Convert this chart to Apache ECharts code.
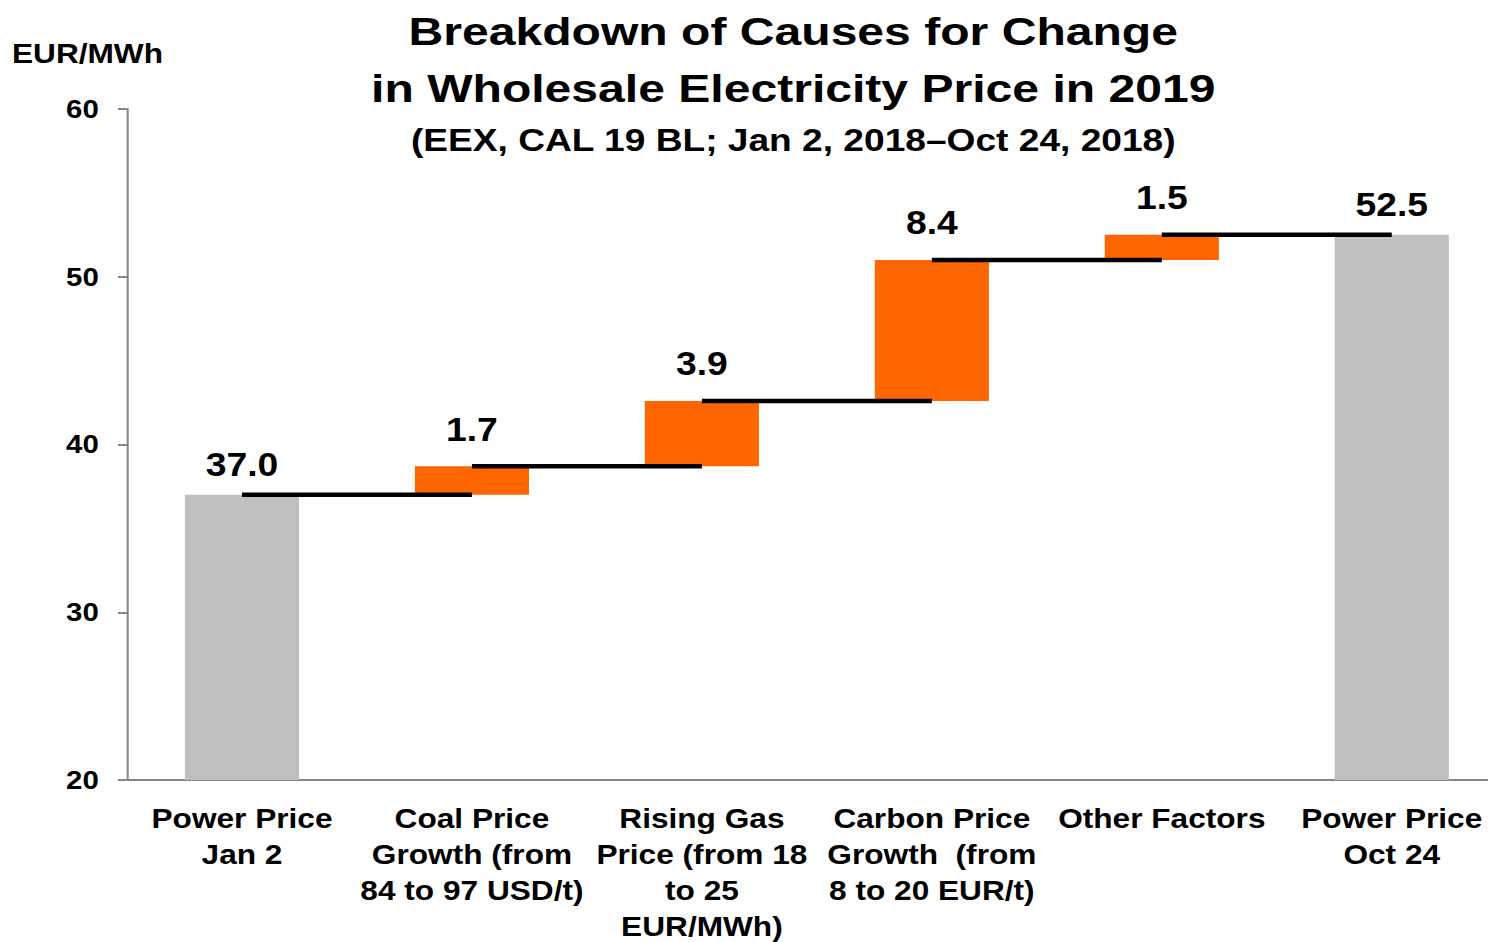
<!DOCTYPE html>
<html>
<head>
<meta charset="utf-8">
<script src="https://cdn.jsdelivr.net/npm/echarts@6/dist/echarts.min.js"></script>
<style>
  html, body { margin: 0; padding: 0; background: #fff; overflow: hidden; }
  /* the reference uses horizontally widened text, so the whole drawing is stretched a bit */
  #chart { width: 1317px; height: 942px; transform: scaleX(1.13); transform-origin: 0 0; }
</style>
</head>
<body>
<div id="chart"></div>
<script>
// categories of the waterfall
const categories = [
  'Power Price\nJan 2',
  'Coal Price\nGrowth (from\n84 to 97 USD/t)',
  'Rising Gas\nPrice (from 18\nto 25\nEUR/MWh)',
  'Carbon Price\nGrowth  (from\n8 to 20 EUR/t)',
  'Other Factors',
  'Power Price\nOct 24'
]
// invisible base under each bar
const bases = [0, 37.0, 38.7, 42.6, 51.0, 0]
// visible part of each bar
const deltas = [37.0, 1.7, 3.9, 8.4, 1.5, 52.5]
const valueLabels = ['37.0', '1.7', '3.9', '8.4', '1.5', '52.5']
const yTicks = [20, 30, 40, 50, 60]

const titleLines = ['Breakdown of Causes for Change', 'in Wholesale Electricity Price in 2019']
const subTitle = '(EEX, CAL 19 BL; Jan 2, 2018\u2013Oct 24, 2018)'
const unitText = 'EUR/MWh'

const gray = '#bfbfbf'
const orange = '#ff6600'
const axisGray = '#868686'
const font = 'Liberation Sans, Arial, sans-serif'

const isTotal = i => i === 0 || i === deltas.length - 1

// connectors: level reached after each bar, drawn to the next bar centre
const connectors = []
for (let i = 0; i < deltas.length - 1; i++) {
  connectors.push([i, bases[i] + deltas[i]])
}

function headText(text, x, y, size, sx, align) {
  return {
    type: 'text',
    x: x,
    y: y,
    scaleX: sx,
    style: {
      text: text,
      font: 'bold ' + size + 'px ' + font,
      fill: '#000',
      align: align,
      textAlign: align,
      verticalAlign: 'middle',
      textVerticalAlign: 'middle'
    }
  }
}

const chart = echarts.init(document.getElementById('chart'), null, { renderer: 'svg' })
chart.setOption({
  animation: false,
  graphic: [
    headText(titleLines[0], 702, 32, 38, 1.12, 'center'),
    headText(titleLines[1], 702, 89, 38, 1.12, 'center'),
    headText(subTitle, 702, 140, 31, 1.06, 'center'),
    headText(unitText, 10.6, 53, 28, 1, 'left')
  ],
  grid: { left: 112.4, top: 109, width: 1221, height: 671, outerBoundsMode: 'none', containLabel: false },
  xAxis: {
    type: 'category',
    data: categories,
    axisLine: { lineStyle: { color: axisGray, width: 2 } },
    axisTick: { show: false },
    axisLabel: {
      interval: 0,
      margin: 20,
      fontFamily: font,
      fontWeight: 'bold',
      fontSize: 28,
      lineHeight: 36,
      color: '#000'
    }
  },
  yAxis: {
    type: 'value',
    min: yTicks[0],
    max: yTicks[yTicks.length - 1],
    interval: 10,
    splitLine: { show: false },
    axisLine: { show: true, lineStyle: { color: axisGray, width: 1.8 } },
    axisTick: { show: true, length: 8, lineStyle: { color: axisGray, width: 2 } },
    axisLabel: {
      margin: 25,
      fontFamily: font,
      fontWeight: 'bold',
      fontSize: 26,
      color: '#000'
    }
  },
  series: [
    {
      type: 'bar',
      stack: 'w',
      barWidth: 101,
      itemStyle: { color: 'transparent' },
      data: bases,
      silent: true
    },
    {
      type: 'bar',
      stack: 'w',
      barWidth: 101,
      data: deltas.map((v, i) => ({
        value: v,
        itemStyle: { color: isTotal(i) ? gray : orange },
        label: { distance: isTotal(i) ? 14 : 21 }
      })),
      label: {
        show: true,
        position: 'top',
        fontFamily: font,
        fontWeight: 'bold',
        fontSize: 33,
        color: '#000',
        formatter: p => valueLabels[p.dataIndex]
      }
    },
    {
      type: 'custom',
      z: 5,
      data: connectors,
      renderItem: (params, api) => {
        const p1 = api.coord([api.value(0), api.value(1)])
        const p2 = api.coord([api.value(0) + 1, api.value(1)])
        return {
          type: 'line',
          shape: { x1: p1[0], y1: p1[1], x2: p2[0], y2: p2[1] },
          style: { stroke: '#000', lineWidth: 4.5 }
        }
      }
    }
  ]
})
</script>
</body>
</html>
